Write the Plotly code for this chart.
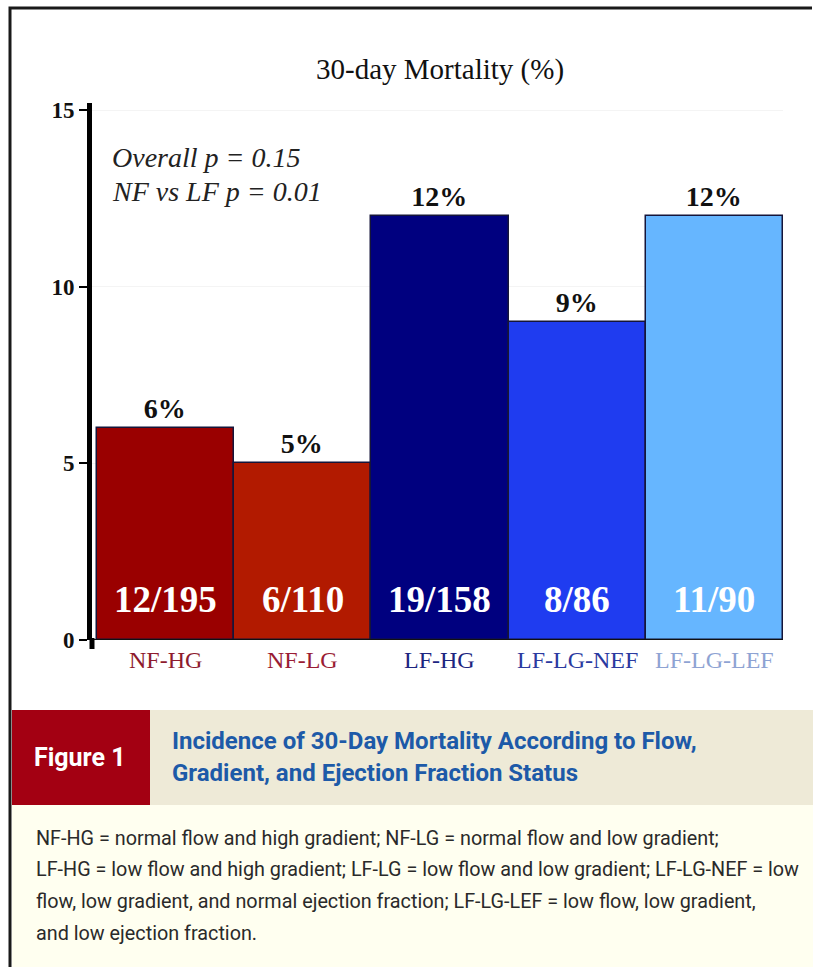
import plotly.graph_objects as go

# Mortality data by flow / gradient / ejection-fraction group
groups = ["NF-HG", "NF-LG", "LF-HG", "LF-LG-NEF", "LF-LG-LEF"]
mortality_pct = [6, 5, 12, 9, 12]
events = ["12/195", "6/110", "19/158", "8/86", "11/90"]
bar_colors = ["#9a0000", "#b21a00", "#00007f", "#1f3cf0", "#66b6ff"]
label_colors = ["#8e1b2e", "#9a1c34", "#1c2580", "#2b3aa0", "#8ea3d3"]
y_ticks = [0, 5, 10, 15]

caption_lines = ["Incidence of 30-Day Mortality According to Flow,",
                 "Gradient, and Ejection Fraction Status"]
footnote_lines = [
    "NF-HG = normal flow and high gradient; NF-LG = normal flow and low gradient;",
    "LF-HG = low flow and high gradient; LF-LG = low flow and low gradient; LF-LG-NEF = low",
    "flow, low gradient, and normal ejection fraction; LF-LG-LEF = low flow, low gradient,",
    "and low ejection fraction.",
]

W, H = 813, 967
L, R, T, B = 92, 30, 103, 327
PW, PH = W - L - R, H - T - B


def px(x):
    return (x - L) / PW


def py(y):
    return (H - B - y) / PH


serif = "Liberation Serif, Times New Roman, serif"
sans = "Roboto, Arial, sans-serif"

fig = go.Figure()
fig.add_trace(go.Bar(
    x=groups, y=mortality_pct,
    marker=dict(color=bar_colors, line=dict(color="#15153a", width=1.5)),
    text=[f"<b>{v}%</b>" for v in mortality_pct], textposition="outside",
    textfont=dict(family=serif, size=28, color="#111111"),
    cliponaxis=False, hoverinfo="skip",
))


def note(x, y, text, font, xanchor="center"):
    return dict(x=px(x), y=py(y), xref="paper", yref="paper", text=text,
                xanchor=xanchor, yanchor="middle", showarrow=False, font=font)


annotations = []
for g, e in zip(groups, events):
    annotations.append(dict(x=g, y=0, xref="x", yref="y", yshift=41, text=f"<b>{e}</b>",
                            showarrow=False, font=dict(family=serif, size=37, color="white"),
                            xanchor="center", yanchor="middle"))
for g, c in zip(groups, label_colors):
    annotations.append(dict(x=g, y=0, xref="x", yref="y", yshift=-20, text=g,
                            showarrow=False, font=dict(family=serif, size=24, color=c),
                            xanchor="center", yanchor="middle"))

annotations += [
    note(440, 70, "30-day Mortality (%)", dict(family=serif, size=29, color="#111111")),
    note(110, 158, "<i>Overall p = 0.15</i>", dict(family=serif, size=28, color="#222222"), "left"),
    note(110, 191, "<i>NF vs LF p = 0.01</i>", dict(family=serif, size=28, color="#222222"), "left"),
    note(80, 757, "<b>Figure 1</b>", dict(family=sans, size=25, color="white")),
]
for i, line in enumerate(caption_lines):
    annotations.append(note(170, 741 + 32 * i, f"<b>{line}</b>",
                            dict(family=sans, size=24, color="#1d5aa8"), "left"))
for i, line in enumerate(footnote_lines):
    annotations.append(note(34, 838 + 31.7 * i, line,
                            dict(family=sans, size=19.8, color="#2a2a2a"), "left"))

shapes = [
    # caption band
    dict(type="rect", xref="paper", yref="paper", x0=px(150), x1=px(W), y0=py(805), y1=py(710),
         fillcolor="#eeead7", line=dict(width=0), layer="below"),
    dict(type="rect", xref="paper", yref="paper", x0=px(12), x1=px(150), y0=py(805), y1=py(710),
         fillcolor="#a30012", line=dict(width=0), layer="below"),
    # legend area
    dict(type="rect", xref="paper", yref="paper", x0=px(12), x1=px(W), y0=py(H), y1=py(805),
         fillcolor="#fffff0", line=dict(width=0), layer="below"),
    # frame: top rule and left rule as one open path
    dict(type="path", xref="paper", yref="paper",
         path=f"M {px(W - 1)},{py(8)} L {px(10)},{py(8)} L {px(10)},{py(H)}",
         line=dict(color="#1a1a1a", width=3)),
    # baseline and axis foot
    dict(type="line", xref="paper", yref="y", x0=0, x1=1, y0=0, y1=0,
         line=dict(color="#111111", width=2)),
    dict(type="line", xref="paper", yref="paper", x0=px(92), x1=px(92), y0=py(638), y1=py(649),
         line=dict(color="black", width=5)),
]

fig.update_layout(
    width=W, height=H, margin=dict(l=L, r=R, t=T, b=B),
    paper_bgcolor="white", plot_bgcolor="white",
    bargap=0, showlegend=False,
    annotations=annotations, shapes=shapes,
    xaxis=dict(showticklabels=False, showline=False, ticks="", showgrid=False,
               range=[-0.536, 4.5], fixedrange=True),
    yaxis=dict(range=[0, 15.2], tickvals=y_ticks, ticktext=[f"<b>{t}</b>" for t in y_ticks],
               showline=True, linecolor="black", linewidth=5, ticks="outside", ticklen=8,
               tickwidth=2, tickcolor="black", showgrid=True, gridcolor="#f4f4f4",
               zeroline=False, tickfont=dict(family=serif, size=23, color="#111111"),
               fixedrange=True),
)

fig.write_html("out.html", config={"displayModeBar": False})
